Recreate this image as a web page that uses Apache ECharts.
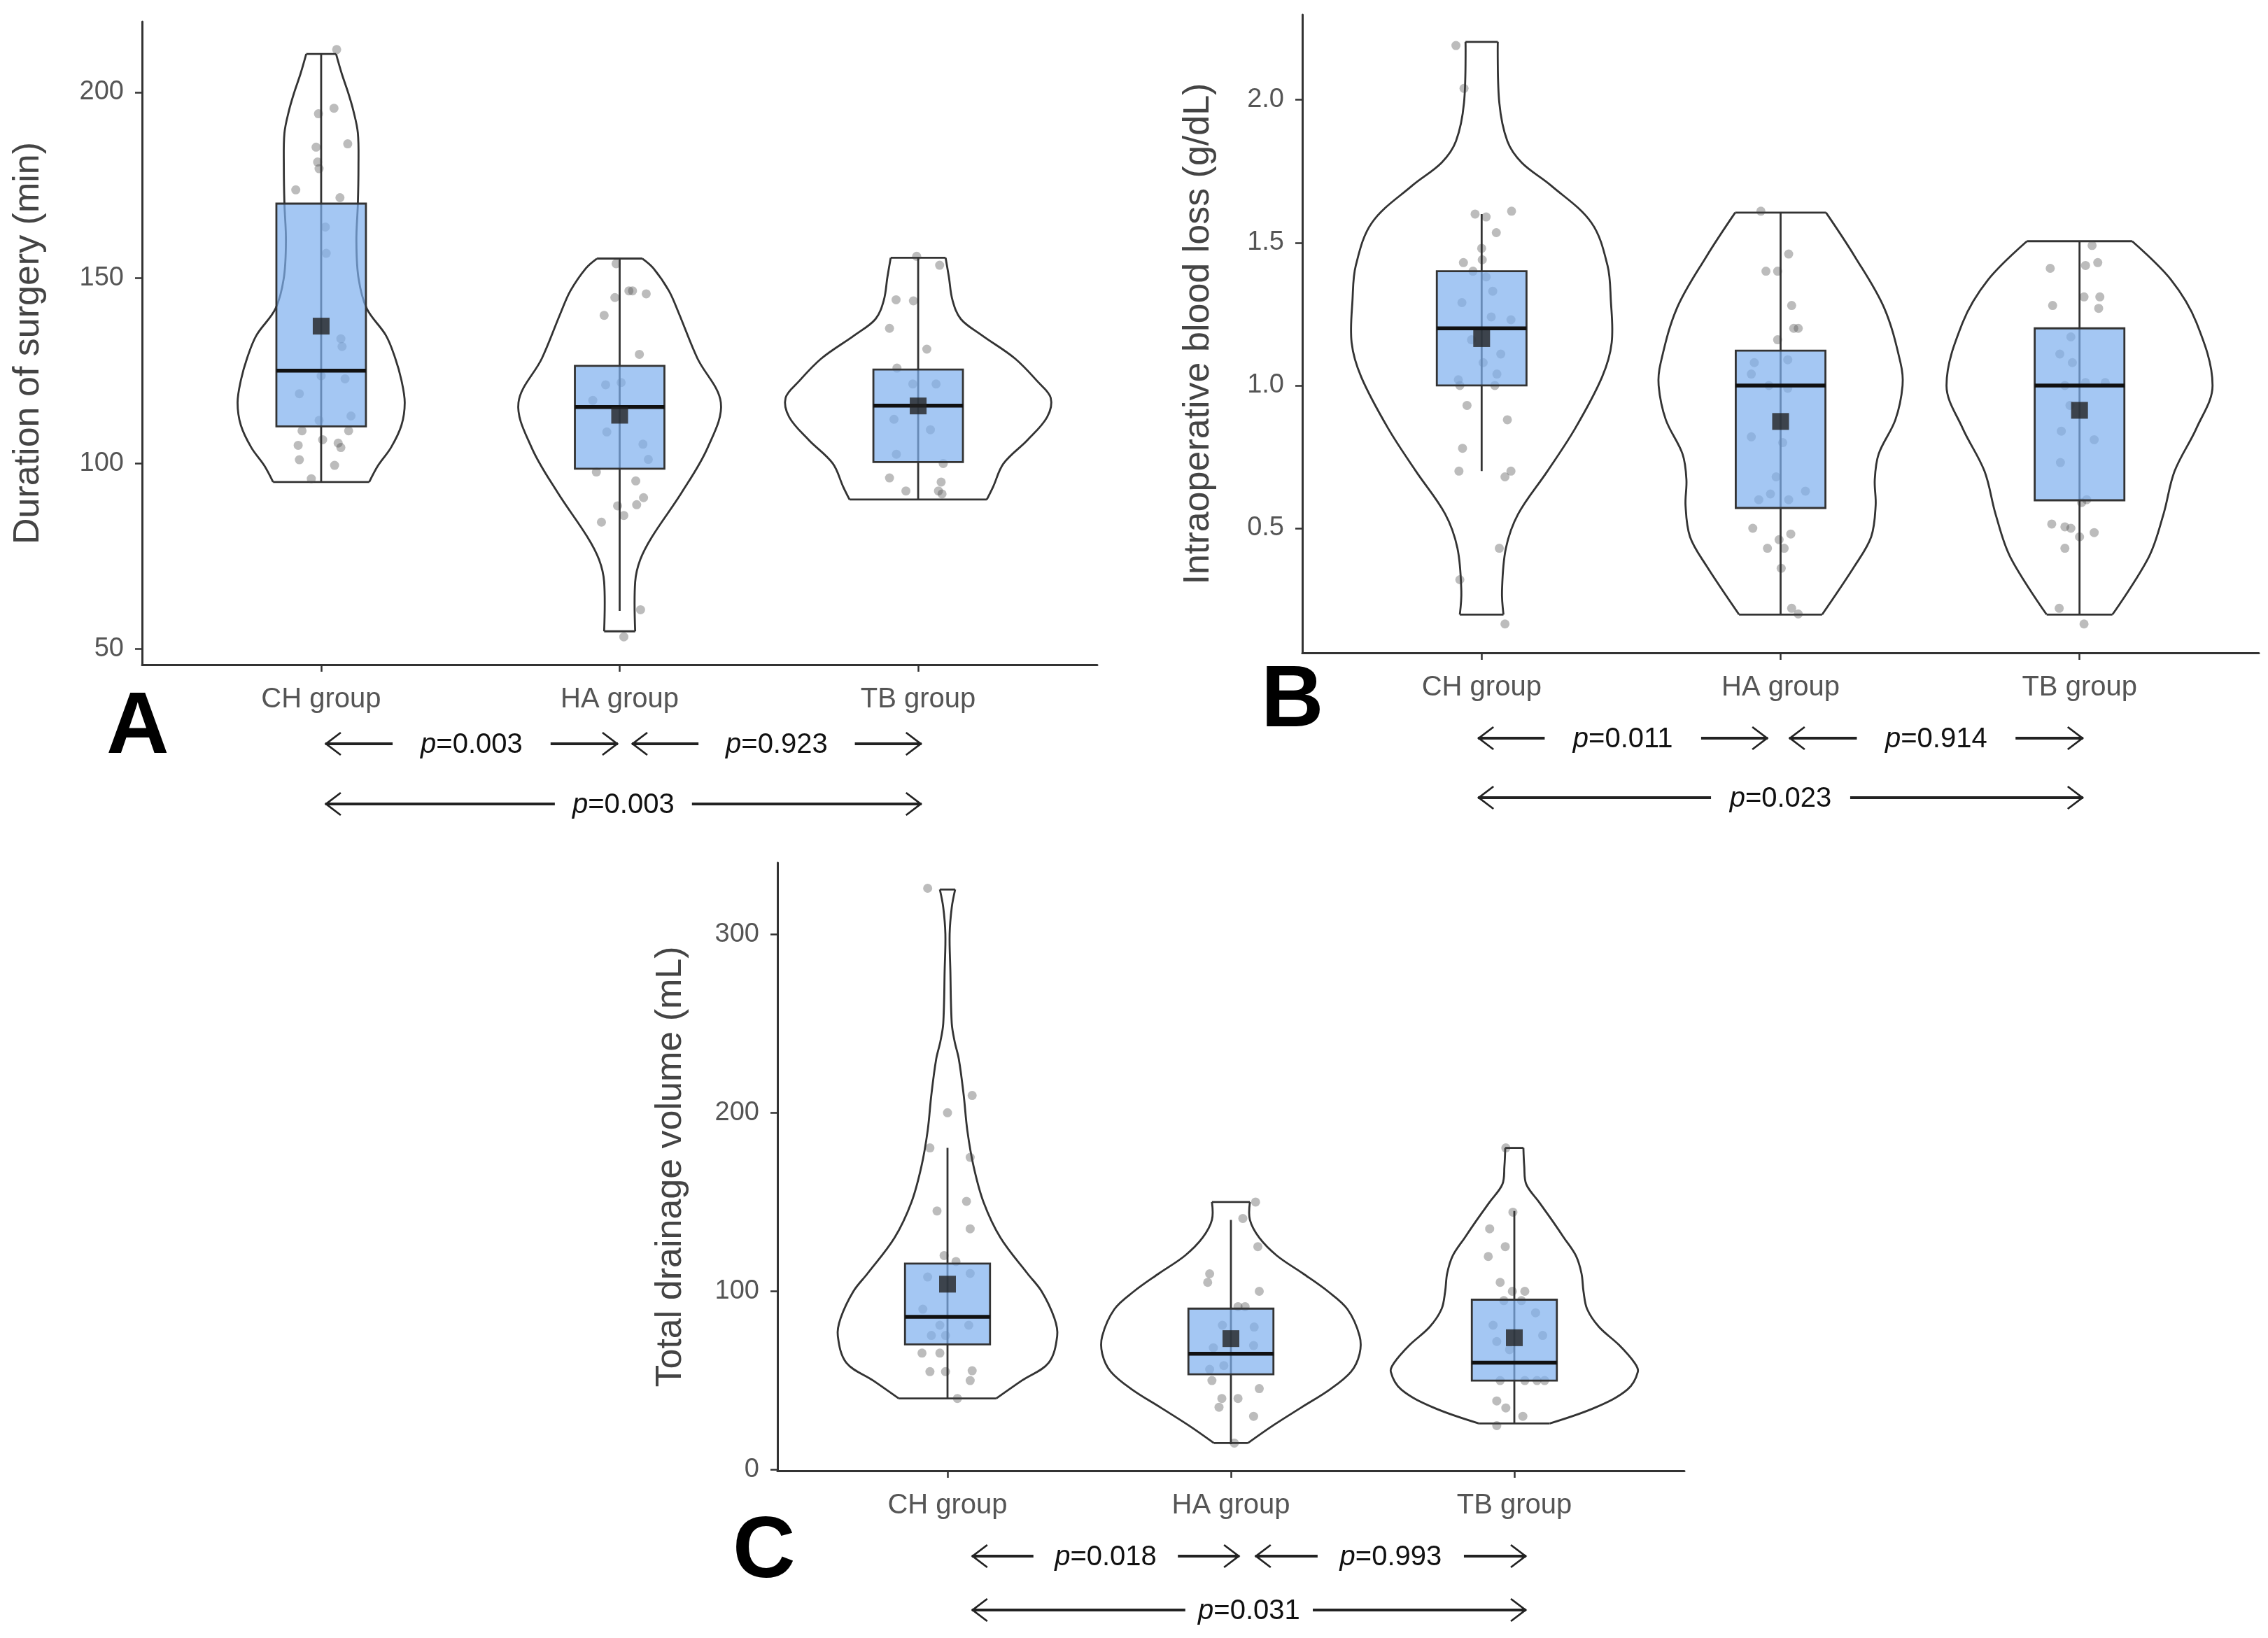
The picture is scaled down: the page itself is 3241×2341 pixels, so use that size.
<!DOCTYPE html>
<html><head><meta charset="utf-8">
<script src="https://cdn.jsdelivr.net/npm/echarts@6/dist/echarts.min.js"></script>
<style>html,body{margin:0;padding:0;background:#fff}#c{width:3241px;height:2341px}</style>
</head><body><div id="c"></div>
<script>
// ---------------- DATA ----------------
const groups = ['CH group', 'HA group', 'TB group'];

// Panel A : Duration of surgery (min)
const ticksA = [50, 100, 150, 200];
const boxA = [ // [whiskerLow, Q1, median, Q3, whiskerHigh]
  [95, 110, 125, 170, 210.3],
  [60.3, 98.6, 115.2, 126.3, 155.2],
  [90.3, 100.4, 115.6, 125.3, 155.4]
];
const meanA = [137, 113, 115.5];
// violin profiles: [value, half width (in group spacing units)]
const violinA_CH = [[95,0.161],[99.5,0.191],[104.3,0.234],[110.3,0.269],[116.4,0.280],[122.4,0.269],[128.4,0.248],[134.5,0.217],[141.7,0.153],[150,0.125],[160,0.118],[170,0.123],[180,0.125],[189,0.123],[195,0.108],[200,0.090],[205,0.069],[210.3,0.050]];
const violinA_HA = [[54.8,0.052],[68.1,0.052],[74.1,0.069],[80.2,0.108],[92.2,0.208],[104.3,0.295],[116.4,0.339],[128.4,0.260],[140.5,0.198],[146.5,0.165],[152.6,0.113],[155.2,0.076]];
const violinA_TB = [[90.3,0.230],[93.7,0.251],[100,0.286],[106.3,0.366],[112.5,0.432],[117.7,0.444],[122,0.401],[128.3,0.324],[134.5,0.214],[138.9,0.143],[144,0.115],[150.2,0.103],[155.4,0.092]];
// jittered points: [offset from group centre, value]
const ptsA_CH = [[0.052,211.5],[0.043,195.7],[-0.009,194.2],[0.089,186.1],[-0.017,185.2],[-0.012,181.2],[-0.007,179.4],[-0.085,173.7],[0.063,171.6],[0.014,163.7],[0.017,156.6],[0.066,133.6],[0.07,131.5],[0.0,123.6],[0.08,122.8],[-0.073,118.8],[-0.007,111.6],[0.1,112.8],[-0.064,108.8],[0.092,108.8],[0.005,106.4],[0.057,105.5],[0.066,104.3],[-0.077,104.9],[-0.073,101],[0.045,99.5],[-0.033,95.9]];
const ptsA_HA = [[-0.012,153.8],[-0.016,144.7],[0.031,146.5],[0.043,146.5],[0.089,145.7],[-0.052,139.9],[0.066,129.4],[-0.047,121.2],[0.005,121.8],[-0.09,117],[-0.043,108.5],[0.078,105.2],[0.096,101.1],[-0.078,97.7],[0.054,95.3],[0.08,90.8],[0.057,88.9],[-0.007,88.6],[0.014,86],[-0.061,84.2],[0.07,60.6],[0.014,53.3]];
const ptsA_TB = [[-0.005,155.8],[0.072,153.4],[-0.074,144.1],[-0.016,143.8],[-0.096,136.4],[0.029,130.8],[-0.071,125.7],[-0.018,121.4],[0.06,121.4],[-0.081,111.9],[0.041,109.1],[-0.073,102.5],[0.084,100],[-0.096,96.1],[0.077,95],[-0.041,92.6],[0.068,92.6],[0.08,91.8]];
const pA = [['0.003', 1.014, 1.994, 1], ['0.923', 2.041, 3.011, 1], ['0.003', 1.014, 3.011, 2]];

// Panel B : Intraoperative blood loss (g/dL)
const ticksB = [0.5, 1.0, 1.5, 2.0];
const boxB = [
  [0.70, 1.0, 1.2, 1.40, 1.60],
  [0.20, 0.571, 1.0, 1.122, 1.605],
  [0.20, 0.598, 1.0, 1.20, 1.505]
];
const meanB = [1.164, 0.874, 0.913];
const violinB_CH = [[0.198,0.073],[0.28,0.068],[0.43,0.081],[0.55,0.122],[0.70,0.220],[0.85,0.313],[1.03,0.403],[1.15,0.435],[1.30,0.432],[1.42,0.421],[1.57,0.367],[1.70,0.232],[1.78,0.134],[1.855,0.086],[1.99,0.059],[2.203,0.054]];
const violinB_HA = [[0.198,0.139],[0.37,0.249],[0.47,0.303],[0.58,0.318],[0.67,0.315],[0.76,0.328],[0.88,0.384],[1.0,0.408],[1.08,0.401],[1.27,0.347],[1.45,0.249],[1.605,0.152]];
const violinB_TB = [[0.198,0.110],[0.40,0.232],[0.55,0.281],[0.70,0.318],[0.85,0.391],[1.0,0.445],[1.22,0.391],[1.37,0.306],[1.505,0.176]];
const ptsB_CH = [[-0.086,2.19],[-0.059,2.04],[-0.022,1.60],[0.015,1.59],[0.100,1.61],[0.049,1.535],[0.0,1.48],[-0.061,1.43],[0.002,1.44],[-0.029,1.40],[0.015,1.38],[0.037,1.33],[-0.066,1.29],[0.032,1.24],[0.098,1.23],[-0.034,1.16],[0.064,1.11],[0.005,1.08],[0.051,1.04],[-0.078,1.02],[-0.073,1.0],[0.044,1.0],[-0.049,0.93],[0.086,0.88],[-0.064,0.78],[-0.076,0.70],[0.078,0.68],[0.098,0.70],[0.059,0.43],[-0.073,0.32],[0.078,0.165]];
const ptsB_HA = [[-0.066,1.61],[0.027,1.46],[-0.049,1.40],[-0.010,1.40],[0.037,1.28],[0.044,1.20],[0.059,1.20],[-0.010,1.16],[0.024,1.09],[-0.088,1.08],[-0.098,1.04],[-0.039,1.0],[0.024,0.99],[-0.098,0.82],[0.007,0.80],[-0.015,0.68],[-0.073,0.60],[-0.034,0.62],[0.027,0.60],[0.083,0.63],[-0.093,0.50],[0.034,0.48],[-0.005,0.46],[0.012,0.43],[-0.044,0.43],[0.002,0.36],[0.037,0.22],[0.059,0.20]];
const ptsB_TB = [[0.042,1.49],[0.061,1.43],[-0.098,1.41],[0.020,1.42],[0.015,1.31],[0.068,1.31],[-0.090,1.28],[0.064,1.27],[-0.029,1.17],[-0.066,1.11],[-0.024,1.08],[0.020,1.01],[0.086,1.01],[-0.049,1.0],[-0.032,0.93],[-0.061,0.84],[0.049,0.81],[-0.064,0.73],[0.007,0.59],[0.024,0.60],[-0.093,0.515],[-0.049,0.505],[-0.029,0.50],[0.0,0.47],[0.049,0.485],[-0.049,0.43],[-0.068,0.22],[0.015,0.165]];
const pB = [['0.011', 0.988, 1.957, 1], ['0.914', 2.029, 3.012, 1], ['0.023', 0.988, 3.012, 2]];

// Panel C : Total drainage volume (mL)
const ticksC = [0, 100, 200, 300];
const boxC = [
  [40, 70.3, 85.7, 115.5, 180.3],
  [14.4, 53.5, 65, 90.3, 140],
  [26, 50, 60, 95.3, 145]
];
const meanC = [104, 73.5, 74];
const violinC_CH = [[40,0.172],[50,0.262],[60,0.357],[75,0.387],[85,0.377],[100,0.332],[110,0.282],[130,0.187],[150,0.127],[170,0.092],[190,0.070],[210,0.057],[230,0.040],[240,0.025],[250,0.015],[280,0.010],[300,0.0075],[315,0.015],[325,0.027]];
const violinC_HA = [[15,0.060],[25,0.150],[35,0.249],[45,0.349],[55,0.424],[65,0.454],[75,0.454],[90,0.411],[100,0.342],[110,0.254],[120,0.162],[130,0.100],[140,0.067],[150,0.067]];
const violinC_TB = [[26,0.125],[35,0.287],[45,0.399],[55,0.436],[60,0.424],[70,0.369],[80,0.299],[90,0.257],[100,0.244],[110,0.237],[120,0.217],[130,0.175],[140,0.132],[150,0.087],[160,0.042],[170,0.035],[180.3,0.032]];
const ptsC_CH = [[-0.070,325.7],[0,200],[0.087,209.7],[-0.062,180.3],[0.080,175],[-0.037,145],[0.067,150.4],[0.080,135],[-0.012,120],[0.030,116.7],[-0.070,108],[0.080,110],[-0.087,90],[-0.027,81],[-0.007,75.3],[-0.057,75.3],[0.075,81],[-0.090,65.4],[-0.027,65.4],[-0.062,55],[-0.007,55],[0.087,55.5],[0.080,50],[0.035,40]];
const ptsC_HA = [[0.087,150],[0.042,140.8],[0.095,125],[-0.075,109.8],[-0.082,105],[0.100,100],[0.025,91.4],[0.050,91.4],[-0.030,81],[0.082,80],[-0.062,68.4],[0.080,69.6],[-0.075,56.3],[-0.025,58.4],[-0.067,50],[0.100,45.5],[-0.032,40],[0.025,40],[-0.042,35.1],[0.080,30],[0.012,15]];
const ptsC_TB = [[-0.030,180.3],[-0.005,144.3],[-0.087,135],[-0.032,125],[-0.092,119.5],[-0.050,105],[-0.007,100],[0.037,100],[-0.037,94.8],[0.025,94.8],[0.075,88],[-0.075,81],[0.100,75.3],[-0.062,71.9],[-0.017,67.3],[-0.050,50],[0.037,50],[0.080,50],[0.107,50],[-0.062,38.6],[-0.030,34.7],[0.030,30],[-0.062,24.8]];
const pC = [['0.018', 1.086, 2.030, 1], ['0.993', 2.086, 3.042, 1], ['0.031', 1.086, 3.042, 2]];

// ---------------- CHART ----------------
const chart = echarts.init(document.getElementById('c'));
const FONT = 'Liberation Sans, Arial, sans-serif';

const panels = [
  {grid:{left:203, top:31, width:1365, height:919}, ymin:45.8, ymax:219, ticks:ticksA, fmt:v=>String(v),
   title:'Duration of surgery (min)', nameGap:136, box:boxA, mean:meanA,
   violins:[violinA_CH, violinA_HA, violinA_TB], pts:[ptsA_CH, ptsA_HA, ptsA_TB], pv:pA, rows:[113,199]},
  {grid:{left:1861, top:21, width:1367, height:912}, ymin:0.064, ymax:2.298, ticks:ticksB, fmt:v=>v.toFixed(1),
   title:'Intraoperative blood loss (g/dL)', nameGap:122, box:boxB, mean:meanB,
   violins:[violinB_CH, violinB_HA, violinB_TB], pts:[ptsB_CH, ptsB_HA, ptsB_TB], pv:pB, rows:[122,207]},
  {grid:{left:1111, top:1233, width:1296, height:869}, ymin:-0.5, ymax:340, ticks:ticksC, fmt:v=>String(v),
   title:'Total drainage volume (mL)', nameGap:126, box:boxC, mean:meanC,
   violins:[violinC_CH, violinC_HA, violinC_TB], pts:[ptsC_CH, ptsC_HA, ptsC_TB], pv:pC, rows:[122,199]}
];

const grids = [], xAxes = [], yAxes = [], series = [];
const AX = '#333';
panels.forEach((P, k) => {
  grids.push(Object.assign({containLabel:false}, P.grid));
  xAxes.push({type:'value', gridIndex:k, min:0.4, max:3.6,
    axisLine:{show:true, onZero:false, lineStyle:{color:AX, width:3}},
    axisTick:{show:true, length:10, lineStyle:{color:AX, width:2.5}, customValues:[1,2,3]},
    axisLabel:{show:true, customValues:[1,2,3], formatter:v=>groups[Math.round(v)-1] || '',
      color:'#555', fontSize:40, fontFamily:FONT, margin:30},
    splitLine:{show:false}});
  yAxes.push({type:'value', gridIndex:k, min:P.ymin, max:P.ymax,
    name:P.title, nameLocation:'middle', nameGap:P.nameGap, nameRotate:90,
    nameTextStyle:{color:'#444', fontSize:52, fontFamily:FONT},
    axisLine:{show:true, onZero:false, lineStyle:{color:AX, width:3}},
    axisTick:{show:true, length:10, lineStyle:{color:AX, width:2.5}, customValues:P.ticks},
    axisLabel:{show:true, customValues:P.ticks, formatter:P.fmt, color:'#555', fontSize:38, fontFamily:FONT, margin:26},
    splitLine:{show:false}});

  // violins
  series.push({type:'custom', xAxisIndex:k, yAxisIndex:k, z:1, silent:true,
    data: P.violins.map((prof, i) => [i+1, prof[0][0], prof[prof.length-1][0]]),
    encode:{x:0, y:[1,2]},
    renderItem:(params, api) => {
      const g = api.value(0);
      const prof = P.violins[params.dataIndex];
      const L = [], R = [];
      prof.forEach(([v, h]) => { L.push(api.coord([g-h, v])); R.push(api.coord([g+h, v])); });
      const st = {stroke:'#333', lineWidth:2.8, fill:null};
      const n = L.length - 1;
      return {type:'group', children:[
        {type:'polyline', shape:{points:L, smooth:0.35}, style:st},
        {type:'polyline', shape:{points:R, smooth:0.35}, style:st},
        {type:'line', shape:{x1:L[0][0], y1:L[0][1], x2:R[0][0], y2:R[0][1]}, style:st},
        {type:'line', shape:{x1:L[n][0], y1:L[n][1], x2:R[n][0], y2:R[n][1]}, style:st}
      ]};
    }});

  // jittered points
  const pdata = [];
  P.pts.forEach((arr, gi) => arr.forEach(([j, v]) => pdata.push([gi+1+j, v])));
  series.push({type:'scatter', xAxisIndex:k, yAxisIndex:k, z:2, silent:true, data:pdata,
    symbolSize:13, itemStyle:{color:'rgba(70,70,70,0.45)'}});

  // boxes
  series.push({type:'custom', xAxisIndex:k, yAxisIndex:k, z:3, silent:true,
    data: P.box.map((b, i) => [i+1].concat(b)),
    encode:{x:0, y:[1,2,3,4,5]},
    renderItem:(params, api) => {
      const g = api.value(0);
      const pMin = api.coord([g, api.value(1)]), pQ1 = api.coord([g, api.value(2)]),
            pMed = api.coord([g, api.value(3)]), pQ3 = api.coord([g, api.value(4)]),
            pMax = api.coord([g, api.value(5)]);
      const xl = api.coord([g-0.15, api.value(3)])[0], xr = api.coord([g+0.15, api.value(3)])[0];
      return {type:'group', children:[
        {type:'line', shape:{x1:pMin[0], y1:pMin[1], x2:pMax[0], y2:pMax[1]}, style:{stroke:'#333', lineWidth:2.8}},
        {type:'rect', shape:{x:xl, y:pQ3[1], width:xr-xl, height:pQ1[1]-pQ3[1]},
          style:{fill:'rgba(125,175,238,0.7)', stroke:'#333', lineWidth:2.8}},
        {type:'line', shape:{x1:xl, y1:pMed[1], x2:xr, y2:pMed[1]}, style:{stroke:'#111', lineWidth:5.5}}
      ]};
    }});

  // means
  series.push({type:'scatter', xAxisIndex:k, yAxisIndex:k, z:4, silent:true,
    data:P.mean.map((m, i) => [i+1, m]), symbol:'rect', symbolSize:24, itemStyle:{color:'#222'}});

  // p-value arrows
  series.push({type:'custom', xAxisIndex:k, yAxisIndex:k, z:5, silent:true, clip:false,
    data: P.pv.map(p => [p[1], p[2], P.ymin]),
    encode:{x:[0,1], y:2},
    renderItem:(params, api) => {
      const p = P.pv[params.dataIndex];
      const a = api.coord([api.value(0), api.value(2)]);
      const b = api.coord([api.value(1), api.value(2)]);
      const y = a[1] + P.rows[p[3]-1];
      const len = (b[0]-a[0]) * (p[3] === 1 ? 0.23 : 0.385);
      const hl = 22, hh = 16;
      const ls = {stroke:'#222', lineWidth:3.8, fill:null};
      const hs = {stroke:'#222', lineWidth:2.8, fill:null};
      return {type:'group', children:[
        {type:'line', shape:{x1:a[0], y1:y, x2:a[0]+len, y2:y}, style:ls},
        {type:'polyline', shape:{points:[[a[0]+hl, y-hh],[a[0]+1, y],[a[0]+hl, y+hh]]}, style:hs},
        {type:'line', shape:{x1:b[0]-len, y1:y, x2:b[0], y2:y}, style:ls},
        {type:'polyline', shape:{points:[[b[0]-hl, y-hh],[b[0]-1, y],[b[0]-hl, y+hh]]}, style:hs},
        {type:'text', x:(a[0]+b[0])/2, y:y+2, style:{text:'{i|p}=' + p[0], align:'center', verticalAlign:'middle',
          fontSize:40, fontFamily:FONT, fill:'#111',
          rich:{i:{fontStyle:'italic', fontSize:40, fontFamily:FONT, fill:'#111'}}}}
      ]};
    }});
});

chart.setOption({
  backgroundColor:'#fff',
  animation:false,
  grid:grids, xAxis:xAxes, yAxis:yAxes, series:series,
  graphic:[
    {type:'text', left:152, top:980, style:{text:'A', fontSize:124, fontWeight:'bold', fontFamily:FONT, fill:'#000'}},
    {type:'text', left:1802, top:942, style:{text:'B', fontSize:124, fontWeight:'bold', fontFamily:FONT, fill:'#000'}},
    {type:'text', left:1047, top:2158, style:{text:'C', fontSize:124, fontWeight:'bold', fontFamily:FONT, fill:'#000'}}
  ]
});
</script></body></html>
